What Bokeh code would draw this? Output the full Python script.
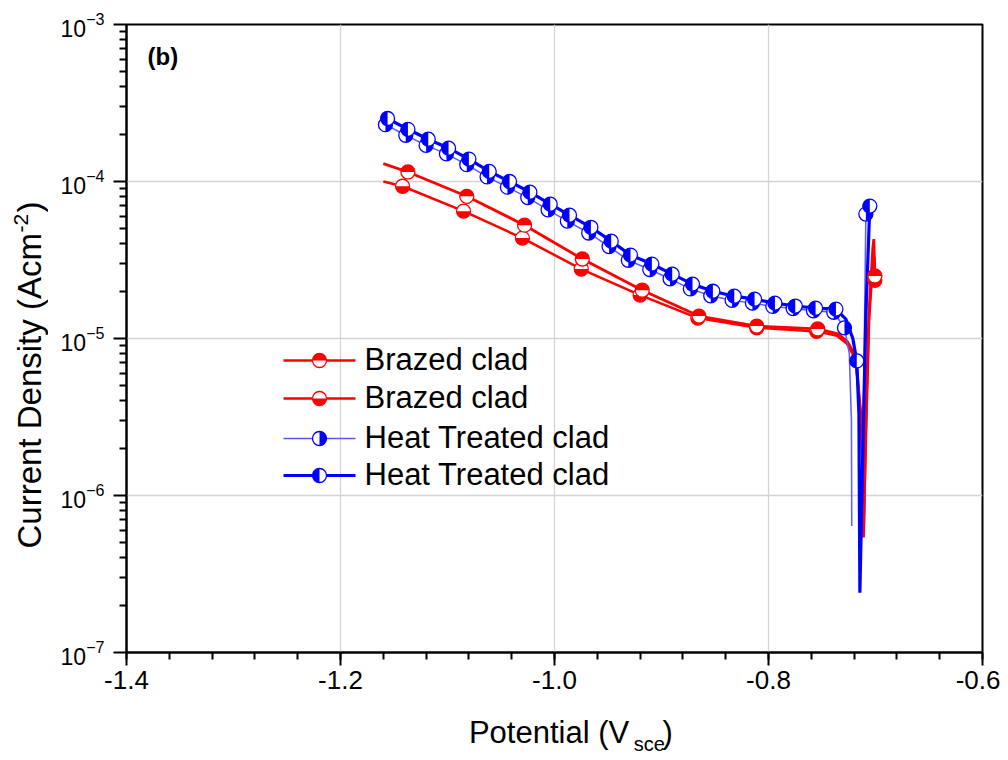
import math
from bokeh.plotting import figure
from bokeh.layouts import row, column
from bokeh.models import (Range1d, LinearScale, FixedTicker, LogTickFormatter,
                          PrintfTickFormatter, Label)
from bokeh.core.properties import value
from bokeh.embed import file_html
from bokeh.resources import INLINE

# ---------------- data ----------------
NAN = float("nan")

# Brazed clad #1 (upper red curve, markers top-filled)
red1_v = [-1.160, -1.137, -1.082, -1.028, -0.974, -0.918, -0.865, -0.811, -0.754,
          -0.735, -0.7265, -0.7212, -0.7184, -0.7165, -0.7137, -0.7118, -0.7112,
          -0.7090, -0.7062, -0.7025, -0.7016, -0.7006]
red1_i = [1.30e-4, 1.15e-4, 8.05e-5, 5.27e-5, 3.21e-5, 2.03e-5, 1.39e-5, 1.20e-5, 1.15e-5,
          1.07e-5, 9.6e-6, 8.3e-6, 7.2e-6, 5.4e-6, 3.3e-6, 1.24e-6, 5.4e-7,
          3.0e-6, 1.43e-5, 3.77e-5, 4.3e-5, 2.5e-5]
red1_mv = [-1.137, -1.082, -1.028, -0.974, -0.918, -0.865, -0.811, -0.754, -0.7006]
red1_mi = [1.15e-4, 8.05e-5, 5.27e-5, 3.21e-5, 2.03e-5, 1.39e-5, 1.20e-5, 1.15e-5, 2.5e-5]

# Brazed clad #2 (lower red curve, markers bottom-filled)
red2_v = [-1.160, -1.142, -1.085, -1.030, -0.975, -0.920, -0.866, -0.811, -0.755,
          -0.736, -0.7270, -0.7215, -0.7185, -0.7165, -0.7135, -0.7118, -0.7110,
          -0.7088, -0.7060, -0.7025, -0.7010, -0.7006]
red2_i = [1.00e-4, 9.33e-5, 6.47e-5, 4.36e-5, 2.77e-5, 1.89e-5, 1.35e-5, 1.17e-5, 1.11e-5,
          1.04e-5, 9.3e-6, 8.0e-6, 7.0e-6, 5.2e-6, 3.1e-6, 1.3e-6, 6.0e-7,
          2.5e-6, 1.3e-5, 3.0e-5, 3.3e-5, 2.35e-5]
red2_mv = [-1.142, -1.085, -1.030, -0.975, -0.920, -0.866, -0.811, -0.755, -0.7006]
red2_mi = [9.33e-5, 6.47e-5, 4.36e-5, 2.77e-5, 1.89e-5, 1.35e-5, 1.17e-5, 1.11e-5, 2.35e-5]

# Heat Treated clad #1 (thin light-blue line, markers right-filled)
blu1_v = [-1.1625, -1.158, -1.139, -1.120, -1.101, -1.082, -1.063, -1.044, -1.025, -1.006,
          -0.988, -0.968, -0.949, -0.931, -0.911, -0.892, -0.873, -0.854, -0.834, -0.815,
          -0.796, -0.777, -0.758, -0.739, -0.729, -0.7245, -0.7225, -0.7222, NAN,
          -0.7135, -0.7110, -0.7090]
blu1_i = [2.45e-4, 2.30e-4, 1.97e-4, 1.70e-4, 1.50e-4, 1.28e-4, 1.07e-4, 9.2e-5, 7.9e-5, 6.6e-5,
          5.6e-5, 4.7e-5, 3.85e-5, 3.15e-5, 2.75e-5, 2.4e-5, 2.07e-5, 1.87e-5, 1.75e-5, 1.68e-5,
          1.6e-5, 1.55e-5, 1.5e-5, 1.47e-5, 1.17e-5, 8.0e-6, 3.0e-6, 6.4e-7, NAN,
          1.0e-6, 5.0e-6, 6.2e-5]
blu1_mv = [-1.158, -1.139, -1.120, -1.101, -1.082, -1.063, -1.044, -1.025, -1.006,
           -0.988, -0.968, -0.949, -0.931, -0.911, -0.892, -0.873, -0.854, -0.834, -0.815,
           -0.796, -0.777, -0.758, -0.739, -0.729, -0.7090]
blu1_mi = [2.30e-4, 1.97e-4, 1.70e-4, 1.50e-4, 1.28e-4, 1.07e-4, 9.2e-5, 7.9e-5, 6.6e-5,
           5.6e-5, 4.7e-5, 3.85e-5, 3.15e-5, 2.75e-5, 2.4e-5, 2.07e-5, 1.87e-5, 1.75e-5, 1.68e-5,
           1.6e-5, 1.55e-5, 1.5e-5, 1.47e-5, 1.17e-5, 6.2e-5]

# Heat Treated clad #2 (thick blue line, markers left-filled)
blu2_v = [-1.1625, -1.156, -1.137, -1.118, -1.099, -1.080, -1.061, -1.042, -1.023, -1.004,
          -0.986, -0.966, -0.947, -0.929, -0.909, -0.890, -0.871, -0.852, -0.832, -0.813,
          -0.794, -0.775, -0.756, -0.737, -0.7277, -0.7212, -0.7175, -0.7155, -0.7146,
          -0.7118, -0.7090, -0.7053]
blu2_i = [2.60e-4, 2.52e-4, 2.15e-4, 1.86e-4, 1.63e-4, 1.39e-4, 1.16e-4, 1.00e-4, 8.55e-5, 7.17e-5,
          6.10e-5, 5.11e-5, 4.17e-5, 3.40e-5, 2.98e-5, 2.57e-5, 2.22e-5, 2.00e-5, 1.86e-5, 1.78e-5,
          1.68e-5, 1.61e-5, 1.56e-5, 1.54e-5, 1.33e-5, 1.0e-5, 7.2e-6, 3.3e-6, 2.4e-7,
          2.0e-6, 1.43e-5, 6.97e-5]
blu2_mv = [-1.156, -1.137, -1.118, -1.099, -1.080, -1.061, -1.042, -1.023, -1.004,
           -0.986, -0.966, -0.947, -0.929, -0.909, -0.890, -0.871, -0.852, -0.832, -0.813,
           -0.794, -0.775, -0.756, -0.737, -0.7175, -0.7053]
blu2_mi = [2.52e-4, 2.15e-4, 1.86e-4, 1.63e-4, 1.39e-4, 1.16e-4, 1.00e-4, 8.55e-5, 7.17e-5,
           6.10e-5, 5.11e-5, 4.17e-5, 3.40e-5, 2.98e-5, 2.57e-5, 2.22e-5, 2.00e-5, 1.86e-5, 1.78e-5,
           1.68e-5, 1.61e-5, 1.56e-5, 1.54e-5, 7.2e-6, 6.97e-5]

legend_labels = ["Brazed clad", "Brazed clad", "Heat Treated clad", "Heat Treated clad"]
x_ticks = [-1.4, -1.2, -1.0, -0.8, -0.6]
y_ticks = [1e-7, 1e-6, 1e-5, 1e-4, 1e-3]
x_title = ["Potential (V", "sce", ")"]
y_title = ["Current Density (Acm", "-2", ")"]
panel_tag = "(b)"

# ---------------- styles ----------------
RED = "#ff0000"
BLUE = "#0000ff"
LBLUE = "#5a5aff"
FONT = "Liberation Sans"
R = 7  # marker radius in px

LEFT_W = 48          # width of the y-title strip
TOTAL_H = 756
FRAME_W, FRAME_H = 856, 628
MAIN_W = 1000 - LEFT_W
MAIN_H = 24 + FRAME_H + 56
BOT_H = TOTAL_H - MAIN_H


def bare(width, height, xr, yr):
    f = figure(width=width, height=height, x_range=Range1d(*xr), y_range=Range1d(*yr),
               output_backend="svg", toolbar_location=None,
               x_axis_location=None, y_axis_location=None,
               min_border_left=0, min_border_right=0, min_border_top=0, min_border_bottom=0)
    f.grid.visible = False
    f.outline_line_color = None
    f.background_fill_color = "white"
    f.border_fill_color = "white"
    return f


p = figure(width=MAIN_W, height=MAIN_H, x_range=Range1d(-1.4, -0.6), y_range=Range1d(1e-7, 1e-3),
           y_axis_type="log", output_backend="svg", toolbar_location=None,
           min_border_left=126 - LEFT_W, min_border_right=18, min_border_top=24,
           min_border_bottom=56)
p.background_fill_color = "white"
p.border_fill_color = "white"
p.outline_line_color = "black"
p.outline_line_width = 2

# axes
x_minor = [round(-1.4 + 0.04 * k, 3) for k in range(21)]
y_minor = [m * 10.0 ** e for e in range(-7, -3) for m in range(2, 10)]
p.xaxis.ticker = FixedTicker(ticks=x_ticks, minor_ticks=x_minor)
p.yaxis.ticker = FixedTicker(ticks=y_ticks, minor_ticks=y_minor)
p.xaxis.formatter = PrintfTickFormatter(format="%.1f")
p.yaxis.formatter = LogTickFormatter()
for ax in (p.xaxis, p.yaxis):
    ax.axis_line_width = 2
    ax.axis_line_color = "black"
    ax.major_tick_line_width = 2
    ax.minor_tick_line_width = 2
    ax.major_tick_in = 0
    ax.major_tick_out = 13
    ax.minor_tick_in = 0
    ax.minor_tick_out = 7
    ax.major_label_text_font = FONT
    ax.major_label_text_color = "black"
    ax.axis_label = None
p.xaxis.major_label_text_font_size = "26px"
p.yaxis.major_label_text_font_size = "23px"
p.xaxis.major_label_standoff = 5
p.yaxis.major_label_standoff = 9

p.xgrid.grid_line_color = "#d4d4d4"
p.ygrid.grid_line_color = "#d4d4d4"
p.xgrid.grid_line_width = 1.3
p.ygrid.grid_line_width = 1.3

# legend coordinate system (pixels inside the frame)
p.extra_x_ranges = {"leg": Range1d(0, FRAME_W)}
p.extra_y_ranges = {"leg": Range1d(0, FRAME_H)}
p.extra_x_scales = {"leg": LinearScale()}
p.extra_y_scales = {"leg": LinearScale()}


def half_marker(xs, ys, color, start, end, **kw):
    p.scatter(xs, ys, size=2 * R, fill_color="white", line_color=None, **kw)
    p.wedge(xs, ys, radius=R, radius_units="screen", start_angle=start, end_angle=end,
            fill_color=color, line_color=None, **kw)
    p.scatter(xs, ys, size=2 * R, fill_color=None, line_color=color, line_width=1.3, **kw)


TOP = (0, math.pi)
BOTTOM = (math.pi, 2 * math.pi)
LEFT = (math.pi / 2, 3 * math.pi / 2)
RIGHT = (-math.pi / 2, math.pi / 2)

series = [
    (red2_v, red2_i, red2_mv, red2_mi, RED, RED, 2.5, BOTTOM),
    (red1_v, red1_i, red1_mv, red1_mi, RED, RED, 2.8, TOP),
    (blu1_v, blu1_i, blu1_mv, blu1_mi, LBLUE, BLUE, 1.5, RIGHT),
    (blu2_v, blu2_i, blu2_mv, blu2_mi, BLUE, BLUE, 3.2, LEFT),
]
for v, i, mv, mi, lc, mc, lw, half in series:
    p.line(v, i, line_color=lc, line_width=lw)
for v, i, mv, mi, lc, mc, lw, half in series:
    half_marker(mv, mi, mc, half[0], half[1])

# legend (manual, drawn in frame pixel coordinates)
leg_rows_y = [292, 254, 214, 177]
leg_styles = [
    (RED, RED, 2.6, TOP),
    (RED, RED, 2.3, BOTTOM),
    (LBLUE, BLUE, 1.4, RIGHT),
    (BLUE, BLUE, 3.2, LEFT),
]
for (lc, mc, lw, half), yy, lab in zip(leg_styles, leg_rows_y, legend_labels):
    p.line([157, 229], [yy, yy], line_color=lc, line_width=lw,
           x_range_name="leg", y_range_name="leg")
    half_marker([193], [yy], mc, half[0], half[1], x_range_name="leg", y_range_name="leg")
    p.add_layout(Label(x=238, y=yy + 1, x_units="screen", y_units="screen", text=lab,
                       text_font=FONT, text_font_size="31px", text_color="black",
                       text_baseline="alphabetic", text_align="left"))

# panel tag
p.add_layout(Label(x=21, y=596, x_units="screen", y_units="screen", text=panel_tag,
                   text_font=FONT, text_font_size="24px", text_font_style="bold",
                   text_color="black", text_baseline="alphabetic"))

# ---------------- x title strip (with subscript) ----------------
pb = bare(MAIN_W, BOT_H, (0, MAIN_W), (0, BOT_H))
pb.text(x=[607 - LEFT_W], y=[24], text=[x_title[0]], text_font=value(FONT),
        text_font_size="31px", text_color="black", text_baseline="alphabetic", text_align="right")
pb.text(x=[612 - LEFT_W], y=[13], text=[x_title[1]], text_font=value(FONT),
        text_font_size="20px", text_color="black", text_baseline="alphabetic", text_align="left")
pb.text(x=[644 - LEFT_W], y=[24], text=[x_title[2]], text_font=value(FONT),
        text_font_size="31px", text_color="black", text_baseline="alphabetic", text_align="left")

# ---------------- y title strip (with superscript) ----------------
pl = bare(LEFT_W, TOTAL_H, (0, LEFT_W), (0, TOTAL_H))
pl.text(x=[29], y=[TOTAL_H - 548], text=[y_title[0]], angle=math.pi / 2, text_font=value(FONT),
        text_font_size="33px", text_color="black", text_baseline="alphabetic", text_align="left")
pl.text(x=[20.5], y=[TOTAL_H - 232], text=[y_title[1]], angle=math.pi / 2, text_font=value(FONT),
        text_font_size="21px", text_color="black", text_baseline="alphabetic", text_align="left")
pl.text(x=[29], y=[TOTAL_H - 212], text=[y_title[2]], angle=math.pi / 2, text_font=value(FONT),
        text_font_size="33px", text_color="black", text_baseline="alphabetic", text_align="left")

layout = row(pl, column(p, pb, spacing=0), spacing=0)
open("out.html", "w").write(file_html(layout, INLINE))
